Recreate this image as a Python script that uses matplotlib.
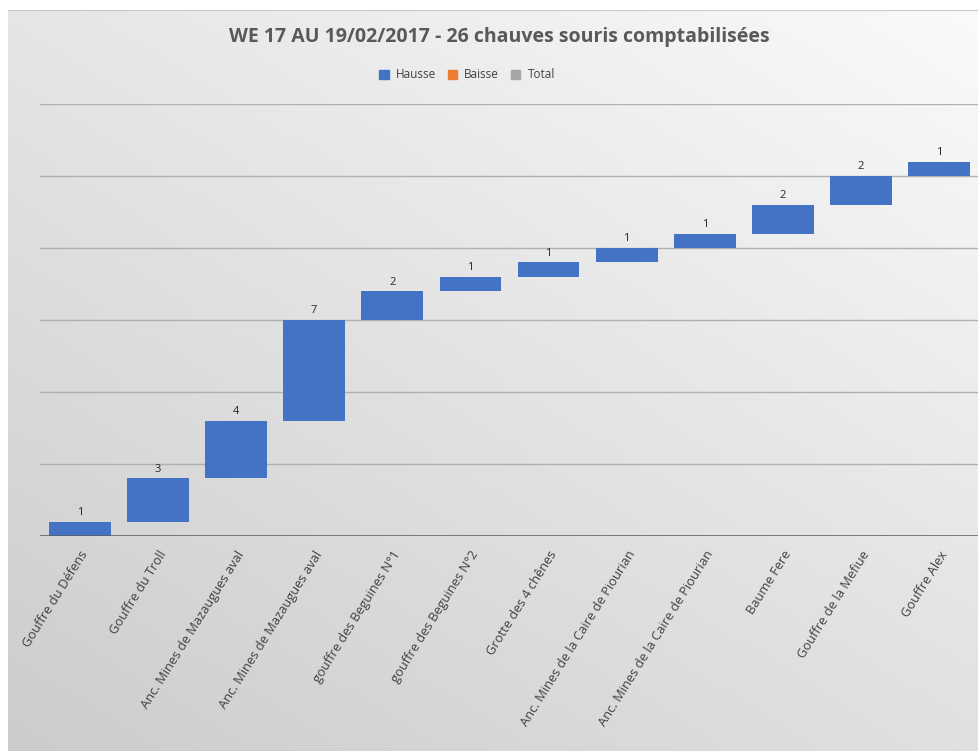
import matplotlib
matplotlib.use('Agg')
import matplotlib.pyplot as plt
import numpy as np
from matplotlib.patches import Patch

# data
sites = ['Gouffre du Défens', 'Gouffre du Troll', 'Anc. Mines de Mazaugues aval',
         'Anc. Mines de Mazaugues aval', 'gouffre des Beguines N°1', 'gouffre des Beguines N°2',
         'Grotte des 4 chênes', 'Anc. Mines de la Caire de Piourian',
         'Anc. Mines de la Caire de Piourian', 'Baume Fere', 'Gouffre de la Mefiue',
         'Gouffre Alex']
counts = [1, 3, 4, 7, 2, 1, 1, 1, 1, 2, 2, 1]
grid_levels = [5, 10, 15, 20, 25, 30]

plt.rcParams['font.family'] = ['Open Sans', 'DejaVu Sans']

fig = plt.figure(figsize=(9.79, 7.51), dpi=100)

# gradient panel behind the chart
bg = fig.add_axes([8/979, 0, 1 - 8/979, (751 - 10)/751], zorder=0)
xx, yy = np.meshgrid(np.linspace(0, 1, 200), np.linspace(0, 1, 200))
shade = 0.80 + 0.08*xx + 0.10*yy
bg.imshow(np.dstack([shade]*3), origin='lower', extent=[0, 1, 0, 1], aspect='auto')
bg.axhline(1, color='#c8c8c8', lw=1.5)
bg.set_axis_off()

ax = fig.add_axes([40/979, (751 - 536)/751, 1 - 40/979, (536 - 104)/751], zorder=1)
ax.patch.set_alpha(0)

x = np.arange(len(counts))
tops = np.cumsum(counts)
bottoms = tops - np.array(counts)
ax.bar(x, counts, bottom=bottoms, width=0.79, color='#4472C4', zorder=3)
for xi, top, c in zip(x, tops, counts):
    ax.text(xi, top + 0.25, str(c), ha='center', va='bottom', fontsize=8, color='#262626')

for g in grid_levels:
    ax.axhline(g, color='#b0b0b0', lw=1, zorder=1)
ax.axhline(0, color='#595959', lw=1.8, zorder=4)

ax.set_xlim(-0.51, len(counts) - 0.49)
ax.set_ylim(0, 30)
ax.set_yticks([])
ax.set_xticks(x)
ax.set_xticklabels(sites, rotation=58, ha='right', va='top', rotation_mode='anchor',
                   fontsize=9.3, color='#404040')
ax.tick_params(axis='x', length=0, pad=9)
for s in ax.spines.values():
    s.set_visible(False)

fig.text(0.51, 1 - 37/751, 'WE 17 AU 19/02/2017 - 26 chauves souris comptabilisées',
         ha='center', va='center', fontsize=14, fontweight='bold', color='#595959')

handles = [Patch(color='#4472C4', label='Hausse'), Patch(color='#ED7D31', label='Baisse'),
           Patch(color='#A5A5A5', label='Total')]
fig.legend(handles=handles, loc='center', bbox_to_anchor=(0.477, 1 - 75/751), ncol=3,
           frameon=False, fontsize=8.5, handlelength=0.8, handleheight=0.8,
           handletextpad=0.6, columnspacing=1.0, labelcolor='#404040')

fig.savefig('out.png', dpi=100)
